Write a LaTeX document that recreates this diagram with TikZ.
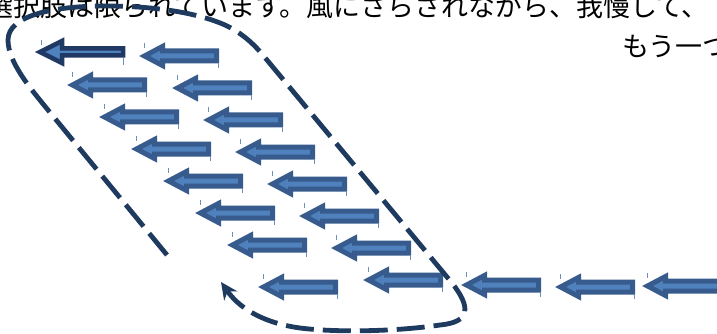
\documentclass[tikz,border=0pt]{standalone}
\usepackage{fontspec}
\newfontfamily\jpfont{Noto Sans CJK JP}
\usetikzlibrary{arrows.meta}
\definecolor{loopc}{HTML}{1F3A5F}
\definecolor{arrline}{HTML}{375B8C}
\definecolor{arrfill}{HTML}{4F81BD}
\definecolor{arrdark}{HTML}{1F3864}
\definecolor{tickc}{HTML}{6F8FBA}
\begin{document}
\begin{tikzpicture}[x=1pt,y=-1pt,
  blkarrow/.style={draw=arrline, fill=arrfill, line width=5pt, line join=miter, miter limit=10},
  darkarrow/.style={draw=arrdark, fill=arrfill, line width=4.5pt, line join=miter, miter limit=10},
  ticky/.style={draw=tickc, line width=0.9pt},
  loopline/.style={draw=loopc, line width=4.8pt, dash pattern=on 28pt off 9pt},
  jptext/.style={anchor=base west, inner sep=0pt, font=\jpfont\fontsize{27pt}{27pt}\selectfont}]
\useasboundingbox (0,0) rectangle (717,334);
\clip (0,0) rectangle (717,334);

% text
\node[jptext] (line1) at (-14,17) {選択肢は限られています。風にさらされながら、我慢して、};
\node[jptext] (line2) at (622,57) {もう一つ};

% dark first arrow
\begin{scope}[shift={(35,52)}]
  \draw[darkarrow] (5,0) -- (27,-11) -- (27,-3.5) -- (88,-3.5) -- (88,3.5) -- (27,3.5) -- (27,11) -- cycle;
  \draw[ticky] (6,-12) -- (6,-7);
  \draw[ticky] (88,6) -- (88,13);
\end{scope}

% normal arrows
\foreach \tx/\ty in {67/85, 99/117, 131/149, 163/181, 195/213, 227/245, 258/287,
                     139/56, 172/88, 203/120, 235/152, 267/184, 299/216, 331/248, 363/280,
                     461/285, 555/287, 642/286}{
  \begin{scope}[shift={(\tx,\ty)}]
    \draw[blkarrow] (5.5,0) -- (23.5,-9.5) -- (23.5,-5) -- (77.5,-5) -- (77.5,5) -- (23.5,5) -- (23.5,9.5) -- cycle;
    \draw[ticky] (5,-13) -- (5,-8);
    \draw[ticky] (79,7) -- (79,12);
  \end{scope}
}

% dashed loop
\draw[loopline, -{Stealth[length=17pt,width=16pt]}]
  (167,255) -- (48,110)
  .. controls (30,88) and (8,62) .. (8,40)
  .. controls (8,15) and (55,6) .. (105,6)
  .. controls (160,6) and (200,14) .. (225,25)
  .. controls (240,32) and (252,42) .. (262,54)
  -- (452,283)
  .. controls (470,306) and (472,322) .. (440,325)
  .. controls (400,331) and (340,333) .. (300,328)
  .. controls (270,324) and (242,312) .. (221,282);
\end{tikzpicture}
\end{document}
